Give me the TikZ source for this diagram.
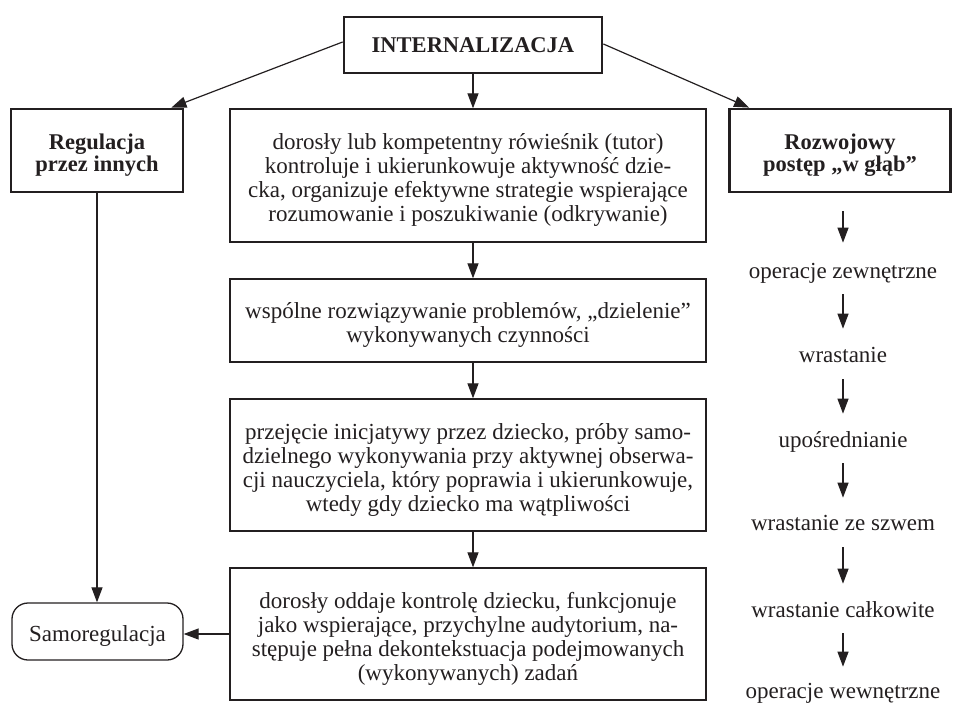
\documentclass[tikz,border=0pt]{standalone}
\usepackage{fontspec}
\setmainfont{Liberation Serif}
\usetikzlibrary{arrows.meta}
\definecolor{ink}{HTML}{231F20}
% extra room above the first line, so that boxed text sits a little low
\newcommand\toppad{\rule{0pt}{25pt}}

\begin{document}
\begin{tikzpicture}[x=1pt,y=-1pt,
  every node/.style={font=\fontsize{23}{24}\selectfont, text=ink},
  headbox/.style={draw=ink, line width=2.8pt, align=center, inner sep=0pt,
    font=\fontsize{22.5}{22.5}\selectfont\bfseries},
  stagebox/.style={draw=ink, line width=1.3pt, align=center, inner sep=0pt,
    minimum width=476pt},
  endbox/.style={draw=ink, line width=1.3pt, rounded corners=16pt, inner sep=0pt},
  steplabel/.style={inner sep=0pt, text height=10.3pt, text depth=0pt},
  link/.style={draw=ink, line width=1.2pt, -{Triangle[length=15pt,width=11pt]}}
]
\useasboundingbox (0,0) rectangle (953,706);

% top level and the two side headings
\node[headbox, minimum width=258pt, minimum height=56pt] (int) at (473,45) {INTERNALIZACJA};
\node[headbox, minimum width=172pt, minimum height=83pt] (reg) at (97,150.5) {\toppad Regulacja\\przez innych};
\node[headbox, minimum width=221pt, minimum height=83pt] (roz) at (840,150.5) {\toppad Rozwojowy\\postęp „w głąb”};

% central sequence of stages
\node[stagebox, minimum height=133pt] (b1) at (468,175.5)
  {\toppad dorosły lub kompetentny rówieśnik (tutor)\\kontroluje i ukierunkowuje aktywność dzie-\\cka, organizuje efektywne strategie wspierające\\rozumowanie i poszukiwanie (odkrywanie)};
\node[stagebox, minimum height=83pt] (b2) at (468,320.5)
  {\toppad wspólne rozwiązywanie problemów, „dzielenie”\\wykonywanych czynności};
\node[stagebox, minimum height=132pt] (b3) at (468,465)
  {\toppad przejęcie inicjatywy przez dziecko, próby samo-\\dzielnego wykonywania przy aktywnej obserwa-\\cji nauczyciela, który poprawia i ukierunkowuje,\\wtedy gdy dziecko ma wątpliwości};
\node[stagebox, minimum height=132pt] (b4) at (468,634)
  {\toppad dorosły oddaje kontrolę dziecku, funkcjonuje\\jako wspierające, przychylne audytorium, na-\\stępuje pełna dekontekstuacja podejmowanych\\(wykonywanych) zadań};

\node[endbox, minimum width=171pt, minimum height=57pt] (samo) at (97.5,631.5) {\toppad Samoregulacja};

% right column: steps of the progression
\node[steplabel] (s1) at (843,273) {operacje zewnętrzne};
\node[steplabel] (s2) at (843,357) {wrastanie};
\node[steplabel] (s3) at (843,442) {upośrednianie};
\node[steplabel] (s4) at (843,525) {wrastanie ze szwem};
\node[steplabel] (s5) at (843,612) {wrastanie całkowite};
\node[steplabel] (s6) at (843,693) {operacje wewnętrzne};

% connectors from the top box
\draw[link] ([yshift=3pt]int.west) -- ([xshift=-13pt]reg.north east);
\draw[link] ([yshift=1pt]int.east) -- ([xshift=21pt]roz.north west);
\draw[link] (int.south) -- (int.south |- b1.north);

% central chain
\draw[link] (b1.south -| int.south) -- (b2.north -| int.south);
\draw[link] (b2.south -| int.south) -- (b3.north -| int.south);
\draw[link] (b3.south -| int.south) -- (b4.north -| int.south);

% towards self-regulation
\draw[link] (reg.south) -- (reg.south |- samo.north);
\draw[link] (b4.west) -- (b4.west -| samo.east);

% right column arrows
\draw[link, shorten <=18pt, shorten >=25pt] (roz.south -| s1) -- (s1.north);
\draw[link, shorten <=16pt, shorten >=23pt] (s1.south) -- (s2.north);
\draw[link, shorten <=17pt, shorten >=23pt] (s2.south) -- (s3.north);
\draw[link, shorten <=16pt, shorten >=22pt] (s3.south) -- (s4.north);
\draw[link, shorten <=17pt, shorten >=23pt] (s4.south) -- (s5.north);
\draw[link, shorten <=16pt, shorten >=21pt] (s5.south) -- (s6.north);
\end{tikzpicture}
\end{document}
